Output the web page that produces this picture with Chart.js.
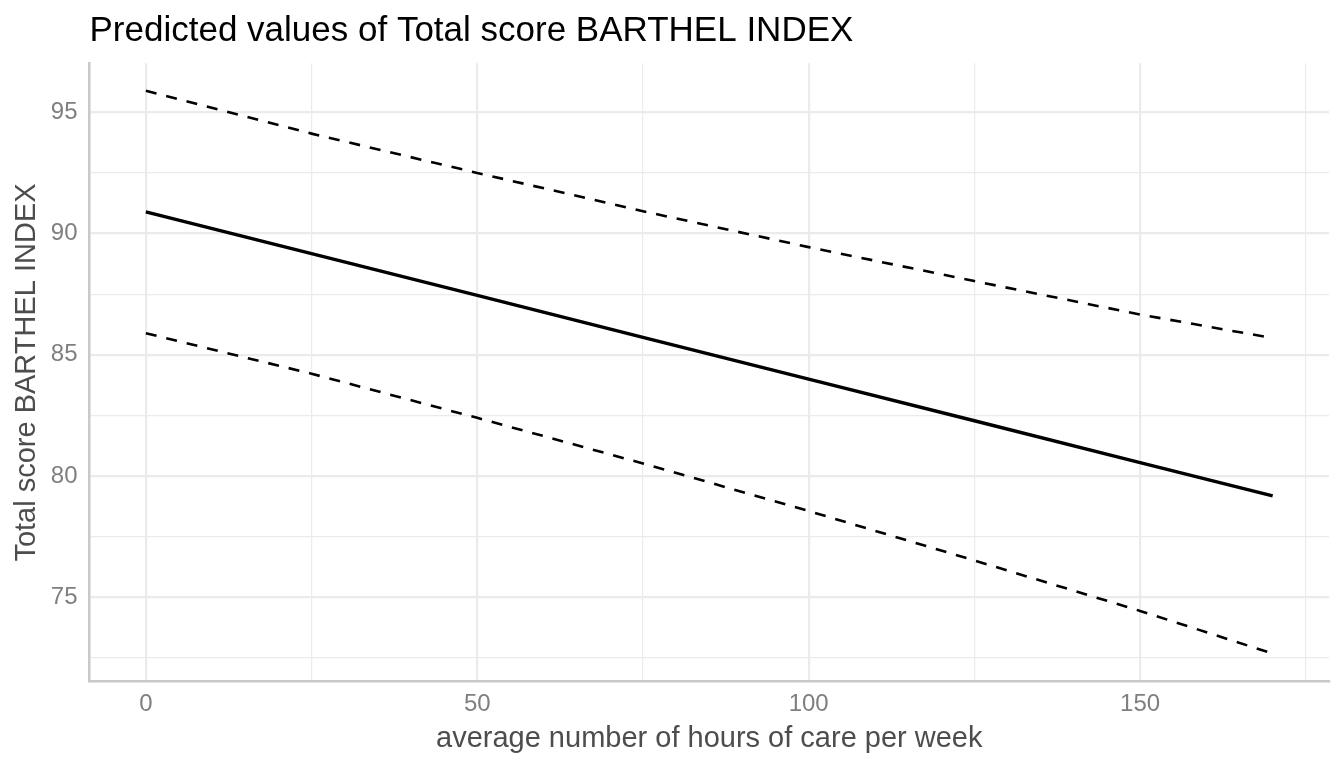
<!DOCTYPE html>
<html>
<head>
<meta charset="utf-8">
<script src="https://cdn.jsdelivr.net/npm/chart.js@4"></script>
<style>
  html, body { margin: 0; padding: 0; background: #ffffff; }
  canvas { display: block; }
</style>
</head>
<body>
<canvas id="chart" width="1344" height="768"></canvas>
<script>
// ---- data ----
const hours     = [0, 25, 50, 75, 100, 125, 150, 170];
const predicted = [90.89, 89.17, 87.45, 85.72, 84.00, 82.28, 80.55, 79.18];
const upperCI   = [95.89, 94.12, 92.50, 90.92, 89.44, 88.04, 86.66, 85.69];
const lowerCI   = [85.89, 84.22, 82.40, 80.52, 78.56, 76.52, 74.44, 72.68];

const xMajorTicks = [0, 50, 100, 150];
const xMinorTicks = [25, 75, 125, 175];
const yMajorTicks = [75, 80, 85, 90, 95];
const yMinorTicks = [72.5, 77.5, 82.5, 87.5, 92.5];

const titleText  = 'Predicted values of Total score BARTHEL INDEX';
const xAxisTitle = 'average number of hours of care per week';
const yAxisTitle = 'Total score BARTHEL INDEX';

// ---- build library structures ----
const toPoints = ys => hours.map((h, i) => ({ x: h, y: ys[i] }));
const FONT = "'Liberation Sans', Arial, sans-serif";

function gridWidth(majors) {
  return ctx => (ctx.tick && majors.includes(ctx.tick.value)) ? 2.2 : 1.2;
}

new Chart(document.getElementById('chart'), {
  type: 'scatter',
  data: {
    datasets: [
      { label: 'upper', data: toPoints(upperCI), showLine: true, borderColor: '#000', borderWidth: 2.6,
        borderDash: [11, 10], pointRadius: 0, tension: 0, fill: false },
      { label: 'lower', data: toPoints(lowerCI), showLine: true, borderColor: '#000', borderWidth: 2.6,
        borderDash: [11, 10], pointRadius: 0, tension: 0, fill: false },
      { label: 'predicted', data: toPoints(predicted), showLine: true, borderColor: '#000', borderWidth: 3.4,
        pointRadius: 0, tension: 0, fill: false }
    ]
  },
  options: {
    responsive: false,
    animation: false,
    devicePixelRatio: 1,
    layout: { padding: { left: 0, right: 15, top: 0, bottom: 0 } },
    plugins: {
      legend: { display: false },
      tooltip: { enabled: false },
      title: {
        display: true,
        text: titleText,
        align: 'start',
        fullSize: false,
        color: '#000000',
        font: { family: FONT, size: 35, weight: 'normal', lineHeight: 1.2 },
        padding: { top: 10.5, bottom: 10.8 }
      }
    },
    scales: {
      x: {
        type: 'linear',
        min: -8.5,
        max: 178.5,
        afterBuildTicks: s => { s.ticks = xMajorTicks.concat(xMinorTicks).sort((a, b) => a - b).map(v => ({ value: v })); },
        afterFit: s => { s.height = 86.3; },
        ticks: {
          autoSkip: false,
          maxRotation: 0,
          padding: 8,
          color: '#7f7f7f',
          font: { family: FONT, size: 24 },
          callback: v => xMajorTicks.includes(v) ? String(v) : ''
        },
        grid: { drawTicks: false, color: '#ebebeb', lineWidth: gridWidth(xMajorTicks) },
        border: { display: true, color: '#c9c9c9', width: 2.5 },
        title: {
          display: true,
          text: xAxisTitle,
          color: '#4d4d4d',
          font: { family: FONT, size: 29, lineHeight: 1.2 },
          padding: { top: 0, bottom: 12 }
        }
      },
      y: {
        type: 'linear',
        min: 71.52,
        max: 97.02,
        afterBuildTicks: s => { s.ticks = yMajorTicks.concat(yMinorTicks).sort((a, b) => a - b).map(v => ({ value: v })); },
        afterFit: s => { s.width = 89.5; },
        ticks: {
          autoSkip: false,
          padding: 12,
          color: '#7f7f7f',
          font: { family: FONT, size: 24 },
          callback: v => yMajorTicks.includes(v) ? String(v) : ''
        },
        grid: { drawTicks: false, color: '#ebebeb', lineWidth: gridWidth(yMajorTicks) },
        border: { display: true, color: '#c9c9c9', width: 2.5 },
        title: {
          display: true,
          text: yAxisTitle,
          color: '#4d4d4d',
          font: { family: FONT, size: 29, lineHeight: 1.2 },
          padding: { top: 9.6, bottom: 0 }
        }
      }
    }
  }
});
</script>
</body>
</html>
